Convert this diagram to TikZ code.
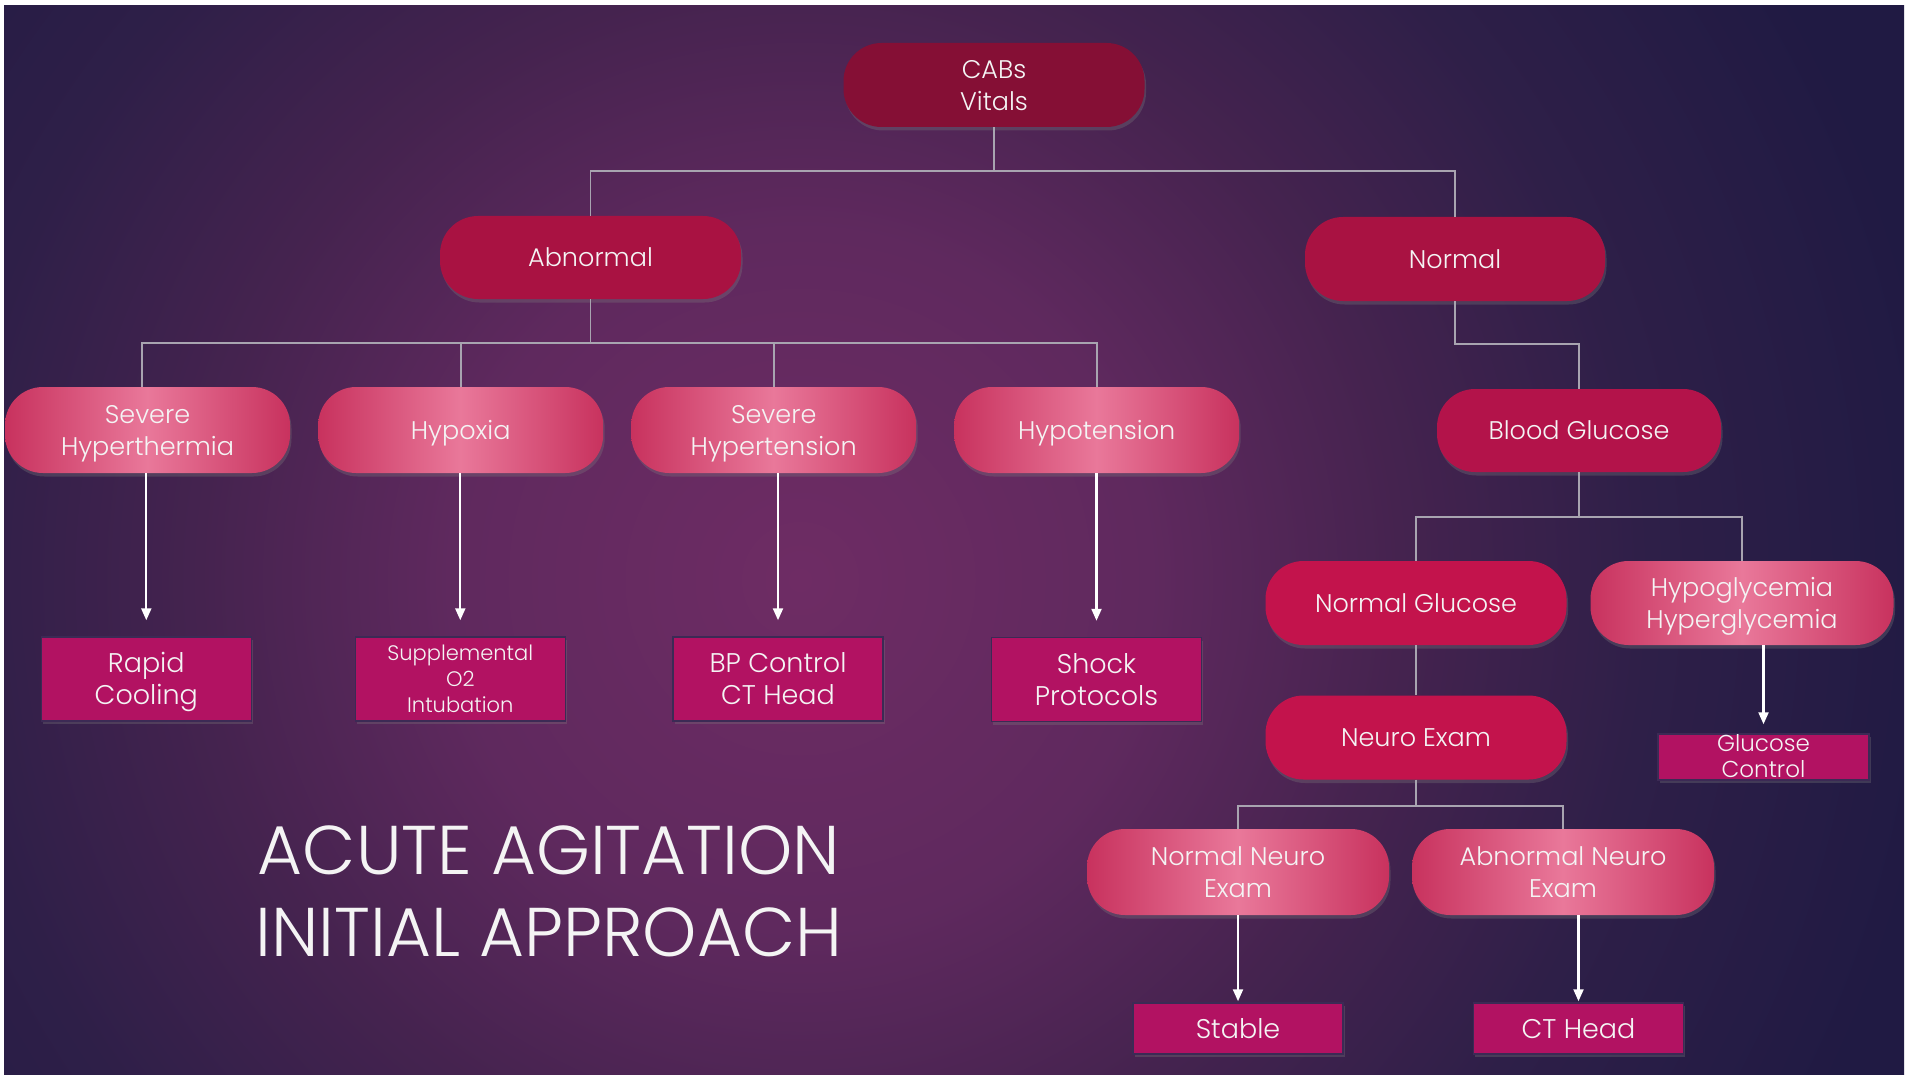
\documentclass[tikz,border=0pt]{standalone}
\usepackage{fontspec}
\IfFontExistsTF{Poppins Light}{\setmainfont{Poppins Light}}{\setmainfont{Poppins}}
\usetikzlibrary{arrows.meta,shadows,calc}
\definecolor{bgc}{HTML}{6E2C64}
\definecolor{bgm}{HTML}{5F295E}
\definecolor{bgn}{HTML}{45234F}
\definecolor{bgd}{HTML}{2E1F48}
\definecolor{bgo}{HTML}{201A43}
\definecolor{cabsc}{HTML}{850F35}
\definecolor{lvlc}{HTML}{A91242}
\definecolor{bgluc}{HTML}{B3134A}
\definecolor{ngluc}{HTML}{C3134C}
\definecolor{pinkE}{HTML}{C8325E}
\definecolor{pinkC}{HTML}{E9789A}
\definecolor{boxc}{HTML}{B21262}
\definecolor{boxline}{HTML}{3C2A55}
\definecolor{linec}{HTML}{A8A4B0}
\definecolor{txtc}{HTML}{F4F4F4}
\pgfdeclareradialshading{bgrad}{\pgfpoint{0bp}{0bp}}{color(0bp)=(bgc); color(7bp)=(bgm); color(12bp)=(bgn); color(17bp)=(bgd); color(23bp)=(bgo); color(50bp)=(bgo)}
\makeatletter
\newcommand\ctxt[1]{\raisebox{\dimexpr0.2\baselineskip-0.6\dimexpr\f@size pt\relax\relax}[0pt][0pt]{\begin{tabular}{@{}c@{}}#1\end{tabular}}}
\makeatother
\tikzset{
  pillbase/.style={rectangle, rounded corners=38pt, minimum height=84pt, minimum width=301pt,
    text=txtc, font=\fontsize{25.5}{32}\selectfont, inner sep=0pt,
    drop shadow={shadow xshift=1.5pt, shadow yshift=-3.5pt, opacity=0.3}},
  darkpill/.style={pillbase, fill=#1},
  pinkpill/.style={pillbase, shade, left color=pinkE, right color=pinkE, middle color=pinkC},
  boxnode/.style={rectangle, fill=boxc, draw=boxline, line width=1.5pt, minimum width=210pt,
    minimum height=84pt, text=txtc, font=\fontsize{27}{32}\selectfont, inner sep=0pt,
    drop shadow={shadow xshift=1.5pt, shadow yshift=-3pt, opacity=0.3}},
  conn/.style={draw=linec, line width=1.6pt},
  arr/.style={draw=white, line width=2.2pt, -{Triangle[length=12pt,width=10pt]}},
  titletext/.style={text=txtc, font=\fontsize{69}{80}\selectfont, anchor=base, inner sep=0pt}
}
\begin{document}
\begin{tikzpicture}[x=1pt,y=-1pt]
\fill[white] (0,0) rectangle (1921,1075);
\useasboundingbox (0,0) rectangle (1921,1075);
\begin{scope}
\clip (4,6) rectangle (1904,1075);
\shade[shading=bgrad] (-450,-670) rectangle (2050,1830);
\end{scope}

% bus levels
\coordinate (bus1) at (0,171);
\coordinate (bus2) at (0,343);
\coordinate (bus3) at (0,344);
\coordinate (bus4) at (0,517);
\coordinate (bus5) at (0,806);

% pills
\node[darkpill=cabsc] (cabs) at (994,85) {\ctxt{CABs\\Vitals}};
\node[darkpill=lvlc, minimum height=83pt] (abn) at (590.5,257.5) {\ctxt{Abnormal}};
\node[darkpill=lvlc, minimum width=300pt] (nor) at (1455,259) {\ctxt{Normal}};

\node[pinkpill, minimum width=285pt, minimum height=86pt] (shy) at (147.5,430) {\ctxt{Severe\\Hyperthermia}};
\node[pinkpill, minimum width=285pt, minimum height=86pt] (hyp) at (460.7,430) {\ctxt{Hypoxia}};
\node[pinkpill, minimum width=285pt, minimum height=86pt] (sht) at (773.7,430) {\ctxt{Severe\\Hypertension}};
\node[pinkpill, minimum width=285pt, minimum height=86pt] (hpt) at (1096.7,430) {\ctxt{Hypotension}};

\node[darkpill=bgluc, minimum width=284pt, minimum height=83pt] (bg) at (1579,430.5) {\ctxt{Blood Glucose}};
\node[darkpill=ngluc] (ng) at (1416,603) {\ctxt{Normal Glucose}};
\node[pinkpill, minimum width=303pt] (hh) at (1742,603) {\ctxt{Hypoglycemia\\Hyperglycemia}};
\node[darkpill=ngluc] (ne) at (1416,737.5) {\ctxt{Neuro Exam}};
\node[pinkpill, minimum width=302pt, minimum height=86pt] (nne) at (1238,872) {\ctxt{Normal Neuro\\Exam}};
\node[pinkpill, minimum width=302pt, minimum height=86pt] (ane) at (1563,872) {\ctxt{Abnormal Neuro\\Exam}};

% boxes
\node[boxnode] (rc) at (146.3,679) {\ctxt{Rapid\\Cooling}};
\node[boxnode, font=\fontsize{21}{26}\selectfont] (so) at (460.3,679) {\ctxt{Supplemental\\O2\\Intubation}};
\node[boxnode] (bp) at (778,679) {\ctxt{BP Control\\CT Head}};
\node[boxnode] (sp) at (1096.5,679.5) {\ctxt{Shock\\Protocols}};
\node[boxnode, minimum width=211pt, minimum height=46pt, font=\fontsize{23}{26}\selectfont] (gc) at (1763.5,757) {\ctxt{Glucose\\Control}};
\node[boxnode, minimum height=51pt] (st) at (1238,1028.5) {\ctxt{Stable}};
\node[boxnode, minimum height=51pt] (ct) at (1578.5,1028.5) {\ctxt{CT Head}};

% connectors
\draw[conn] (cabs.south) -- (cabs.south |- bus1) -| (abn.north);
\draw[conn] (cabs.south |- bus1) -| (nor.north);
\draw[conn] (abn.south) -- (abn.south |- bus2) -| ($(shy.north)+(-5.5,0)$);
\draw[conn] (abn.south |- bus2) -| (hyp.north);
\draw[conn] (abn.south |- bus2) -| (sht.north);
\draw[conn] (abn.south |- bus2) -| (hpt.north);
\draw[conn] (nor.south) -- (nor.south |- bus3) -| (bg.north);
\draw[conn] (bg.south) -- (bg.south |- bus4) -| (ng.north);
\draw[conn] (bg.south |- bus4) -| (hh.north);
\draw[conn] (ng.south) -- (ne.north);
\draw[conn] (ne.south) -- (ne.south |- bus5) -| (nne.north);
\draw[conn] (ne.south |- bus5) -| (ane.north);

% arrows
\draw[arr, shorten >=16pt] (shy.south -| rc.north) -- (rc.north);
\draw[arr, shorten >=16pt] (hyp.south -| so.north) -- (so.north);
\draw[arr, shorten >=16pt] (sht.south -| bp.north) -- (bp.north);
\draw[arr, shorten >=16pt] (hpt.south -| sp.north) -- (sp.north);
\draw[arr, shorten >=9pt] (hh.south -| gc.north) -- (gc.north);
\draw[arr, shorten >=1pt] (nne.south -| st.north) -- (st.north);
\draw[arr, shorten >=1pt] (ane.south -| ct.north) -- (ct.north);

% title
\node[titletext] (t1) at (549,874) {ACUTE AGITATION};
\node[titletext] (t2) at (549,956) {INITIAL APPROACH};
\end{tikzpicture}
\end{document}
